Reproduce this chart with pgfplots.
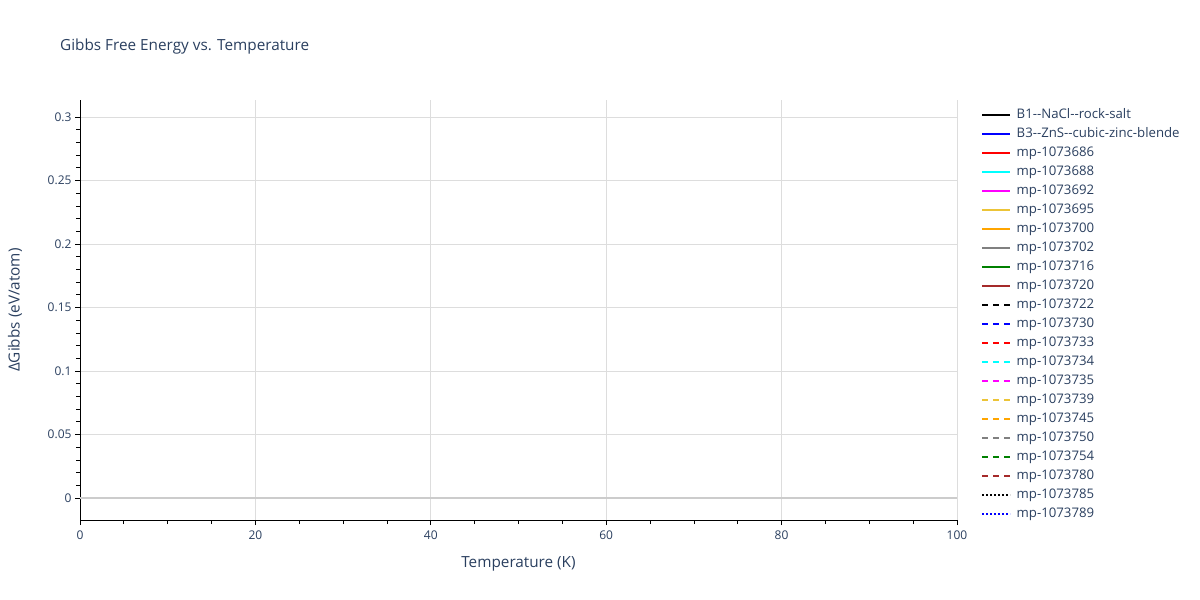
\documentclass[border=0pt]{standalone}
\usepackage{pgfplots}
\pgfplotsset{compat=1.18}
\usepackage{fontspec}
\setmainfont{Open Sans}[Ligatures=TeXOff]
\definecolor{plotlytext}{HTML}{2A3F5F}
\definecolor{gridgray}{HTML}{DDDDDD}
\definecolor{zerogray}{HTML}{CCCCCC}
\definecolor{mygold}{RGB}{236,196,56}
\definecolor{myorange}{HTML}{FFA500}
\definecolor{mygreen}{HTML}{008000}
\definecolor{mybrown}{HTML}{A52A2A}
\definecolor{mygray}{HTML}{808080}
\definecolor{myblue}{HTML}{0000FF}
\definecolor{mycyan}{HTML}{00FFFF}
\definecolor{mymagenta}{HTML}{FF00FF}
\definecolor{myred}{HTML}{FF0000}
\tikzset{
  dashplotly/.style={dash pattern=on 6bp off 5bp},
  dotplotly/.style={dash pattern=on 2bp off 2bp},
}
\begin{document}
\begin{tikzpicture}
\useasboundingbox (0,0) rectangle (1200bp,600bp);
\begin{axis}[
    at={(80bp,80bp)}, anchor=south west,
    width=877bp, height=420bp, scale only axis,
    xmin=0, xmax=100, ymin=-0.0173, ymax=0.3134,
    axis x line*=bottom, axis y line*=left,
    axis line style={black, line width=1pt, -},
    xtick={0,20,40,60,80,100},
    ytick={0,0.05,0.1,0.15,0.2,0.25,0.3},
    yticklabels={0,0.05,0.1,0.15,0.2,0.25,0.3},
    minor x tick num=3, minor y tick num=4,
    tick align=outside,
    major tick length=5bp, minor tick length=4bp,
    tick style={black, line width=0.8pt},
    grid=major,
    major grid style={gridgray, line width=0.8pt},
    minor grid style={draw=none},
    extra y ticks={0}, extra y tick labels={},
    extra y tick style={grid=major, major grid style={zerogray, line width=2pt}, major tick length=0pt},
    ticklabel style={text=plotlytext, font=\fontsize{12bp}{14bp}\selectfont},
    /pgf/number format/assume math mode=true,
    xticklabel style={yshift=-2bp},
    title={Gibbs Free Energy vs. Temperature},
    title style={at={(axis description cs:0,1)}, anchor=west, inner sep=0pt,
        xshift=-20bp, yshift=47bp, text=plotlytext, font=\fontsize{15.3bp}{18bp}\selectfont},
    xlabel={Temperature (K)},
    ylabel={ΔGibbs (eV/atom)},
    label style={text=plotlytext, font=\fontsize{15.3bp}{17bp}\selectfont},
    xlabel style={at={(axis description cs:0.5,0)}, anchor=center, yshift=-44bp},
    ylabel style={at={(axis description cs:0,0.5)}, anchor=center, rotate=0, yshift=65bp},
    legend style={at={(1.0,1.0)}, anchor=north west, xshift=24bp, yshift=-7bp, draw=none, fill=none,
        font=\fontsize{13.2bp}{15bp}\selectfont, text=plotlytext,
        row sep=2.5bp, inner sep=0pt, nodes={inner sep=1.5bp, text height=10bp, text depth=3.5bp},
        /tikz/every odd column/.append style={column sep=4bp}},
    legend cell align=left,
    legend image code/.code={\draw[#1, line width=2bp] (0bp,0bp) -- (28bp,0bp);},
]
\addlegendimage{black}
\addlegendentry{B1--NaCl--rock-salt}
\addlegendimage{myblue}
\addlegendentry{B3--ZnS--cubic-zinc-blende}
\addlegendimage{myred}
\addlegendentry{mp-1073686}
\addlegendimage{mycyan}
\addlegendentry{mp-1073688}
\addlegendimage{mymagenta}
\addlegendentry{mp-1073692}
\addlegendimage{mygold}
\addlegendentry{mp-1073695}
\addlegendimage{myorange}
\addlegendentry{mp-1073700}
\addlegendimage{mygray}
\addlegendentry{mp-1073702}
\addlegendimage{mygreen}
\addlegendentry{mp-1073716}
\addlegendimage{mybrown}
\addlegendentry{mp-1073720}
\addlegendimage{black, dashplotly}
\addlegendentry{mp-1073722}
\addlegendimage{myblue, dashplotly}
\addlegendentry{mp-1073730}
\addlegendimage{myred, dashplotly}
\addlegendentry{mp-1073733}
\addlegendimage{mycyan, dashplotly}
\addlegendentry{mp-1073734}
\addlegendimage{mymagenta, dashplotly}
\addlegendentry{mp-1073735}
\addlegendimage{mygold, dashplotly}
\addlegendentry{mp-1073739}
\addlegendimage{myorange, dashplotly}
\addlegendentry{mp-1073745}
\addlegendimage{mygray, dashplotly}
\addlegendentry{mp-1073750}
\addlegendimage{mygreen, dashplotly}
\addlegendentry{mp-1073754}
\addlegendimage{mybrown, dashplotly}
\addlegendentry{mp-1073780}
\addlegendimage{black, dotplotly}
\addlegendentry{mp-1073785}
\addlegendimage{myblue, dotplotly}
\addlegendentry{mp-1073789}
\end{axis}
\end{tikzpicture}
\end{document}
